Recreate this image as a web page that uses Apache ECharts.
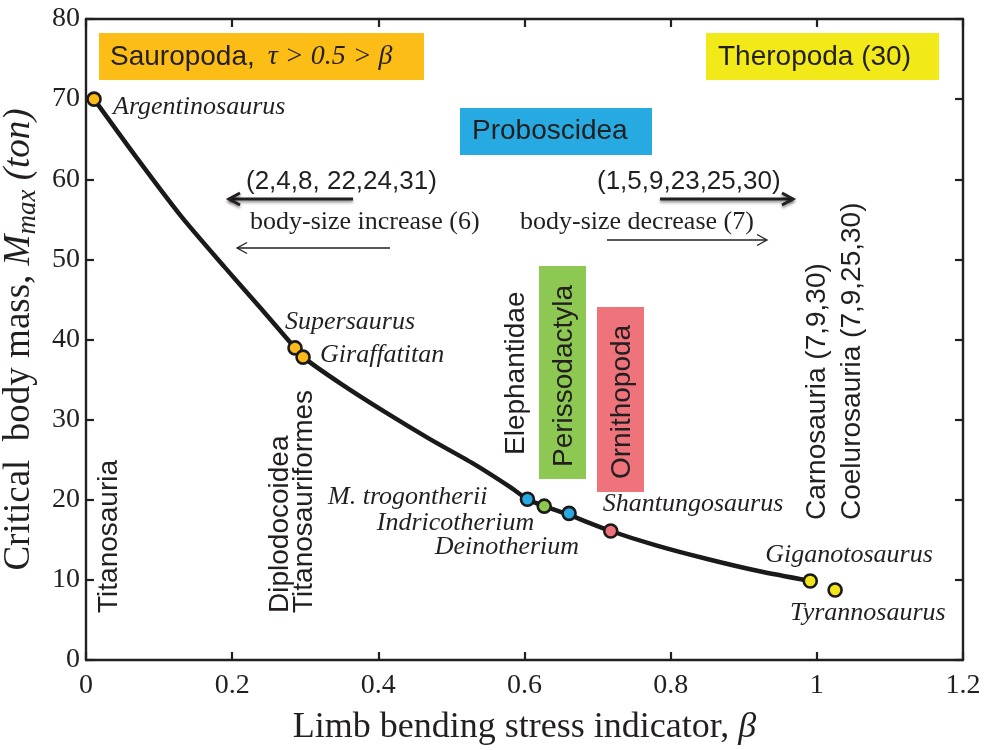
<!DOCTYPE html>
<html><head><meta charset="utf-8">
<script src="https://cdn.jsdelivr.net/npm/echarts@6/dist/echarts.min.js"></script>
<style>html,body{margin:0;padding:0;background:#fff}#c{width:990px;height:750px}</style>
</head><body><div id="c"></div>
<script>
// ---------- data ----------
const xTickValues = [0, 0.2, 0.4, 0.6, 0.8, 1, 1.2];
const yTickValues = [0, 10, 20, 30, 40, 50, 60, 70, 80];

// curve (beta, Mmax)
const curveBeta = [0.011, 0.07, 0.13, 0.19, 0.24, 0.286, 0.297, 0.35, 0.41, 0.47, 0.53, 0.58, 0.604, 0.627, 0.661, 0.718, 0.78, 0.85, 0.92, 0.991];
const curveMass = [70.0, 62.6, 55.4, 49.0, 43.8, 38.95, 37.8, 34.4, 30.9, 27.6, 24.5, 21.6, 20.06, 19.2, 18.1, 16.1, 14.3, 12.6, 11.1, 9.86];

// species points
const speciesNames = ['Argentinosaurus', 'Supersaurus', 'Giraffatitan', 'M. trogontherii', 'Indricotherium', 'Deinotherium', 'Shantungosaurus', 'Giganotosaurus', 'Tyrannosaurus'];
const speciesBeta  = [0.011, 0.286, 0.297, 0.604, 0.627, 0.661, 0.718, 0.991, 1.025];
const speciesMass  = [70.0, 38.95, 37.8, 20.06, 19.2, 18.3, 16.1, 9.86, 8.74];
const speciesClade = ['Sauropoda', 'Sauropoda', 'Sauropoda', 'Proboscidea', 'Perissodactyla', 'Proboscidea', 'Ornithopoda', 'Theropoda', 'Theropoda'];

// ---------- styling ----------
const cladeColor = {
  Sauropoda: '#FBBA18', Proboscidea: '#27AAE1', Perissodactyla: '#8DC84E',
  Ornithopoda: '#EE707A', Theropoda: '#F3E51B'
};
const INK = '#231f20';
const SERIF = '"Liberation Serif", "Times New Roman", serif';
const SANS = '"Liberation Sans", Arial, sans-serif';

// label placement relative to each point (pixels)
const labelLayout = {
  'Argentinosaurus': { align: 'left',  dx: 19,  dy: 8 },
  'Supersaurus':     { align: 'left',  dx: -10, dy: -26 },
  'Giraffatitan':    { align: 'left',  dx: 17,  dy: -2 },
  'M. trogontherii': { align: 'right', dx: -40, dy: -2 },
  'Indricotherium':  { align: 'right', dx: -10, dy: 17 },
  'Deinotherium':    { align: 'right', dx: 10,  dy: 34 },
  'Shantungosaurus': { align: 'left',  dx: -8,  dy: -27 },
  'Giganotosaurus':  { align: 'left',  dx: -45, dy: -26 },
  'Tyrannosaurus':   { align: 'left',  dx: -45, dy: 23 }
};

const curveData = curveBeta.map((b, i) => [b, curveMass[i]]);
const pointData = speciesNames.map((n, i) => {
  const L = labelLayout[n];
  return {
    name: n,
    value: [speciesBeta[i], speciesMass[i]],
    itemStyle: { color: cladeColor[speciesClade[i]] },
    label: { show: true, position: 'inside', align: L.align, verticalAlign: 'middle', offset: [L.dx, L.dy] }
  };
});

function txt(text, x, y, opts) {
  return Object.assign({
    type: 'text', x: x, y: y, z: 50,
    style: Object.assign({ text: text, fill: INK, fontFamily: SANS, fontSize: 28, align: 'left', verticalAlign: 'middle' }, opts && opts.style || {})
  }, opts && opts.el || {});
}
function vtxt(text, x, y, size) {
  return { type: 'text', x: x, y: y, rotation: Math.PI / 2, z: 50,
    style: { text: text, fill: INK, fontFamily: SANS, fontSize: size || 28, align: 'left', verticalAlign: 'middle' } };
}
function box(x, y, w, h, color) {
  return { type: 'rect', shape: { x: x, y: y, width: w, height: h }, style: { fill: color }, z: 40 };
}
function arrow(x1, x2, y, w, head, shadow) {
  const dir = x2 > x1 ? -1 : 1;
  const st = { stroke: '#231f20', lineWidth: w, fill: null };
  if (shadow) { st.shadowBlur = 3; st.shadowOffsetY = 2; st.shadowColor = 'rgba(0,0,0,0.45)'; }
  return [
    { type: 'polyline', z: 45, shape: { points: [[x1, y], [x2, y]] }, style: Object.assign({}, st) },
    { type: 'polyline', z: 45, shape: { points: [[x2 + dir * head, y - head * 0.55], [x2, y], [x2 + dir * head, y + head * 0.55]] }, style: Object.assign({}, st) }
  ];
}

const graphics = [
  box(99, 33, 325, 47, '#FBBD16'),
  box(706, 33, 233, 47, '#F2EA18'),
  box(460, 108, 192, 47, '#27AAE1'),
  box(539, 266, 47, 213, '#8DC852'),
  box(597, 307, 47, 185, '#EE737A'),
  {
    type: 'text', x: 110, y: 57, z: 50,
    style: {
      text: '{a|Sauropoda,}{b|τ > 0.5 > β}', align: 'left', verticalAlign: 'middle',
      rich: {
        a: { fontFamily: SANS, fontSize: 28, fill: INK },
        b: { fontFamily: SERIF, fontStyle: 'italic', fontSize: 28, fill: INK, padding: [0, 0, 0, 13] }
      }
    }
  },
  txt('Theropoda (30)', 718, 57),
  txt('Proboscidea', 472, 131),
  txt('(2,4,8, 22,24,31)', 246, 182, { style: { fontSize: 26 } }),
  txt('(1,5,9,23,25,30)', 597, 182, { style: { fontSize: 26 } }),
  txt('body-size increase (6)', 250, 222, { style: { fontFamily: SERIF, fontSize: 26 } }),
  txt('body-size decrease (7)', 520, 222, { style: { fontFamily: SERIF, fontSize: 26 } }),
  ...arrow(353, 229, 199, 3, 11, true),
  ...arrow(390, 237, 248, 1.3, 10, false),
  ...arrow(660, 793, 199, 3, 11, true),
  ...arrow(607, 767, 240, 1.3, 10, false),
  vtxt('Titanosauria', 109, 613),
  vtxt('Diplodocoidea', 280, 613),
  vtxt('Titanosauriformes', 304, 613),
  vtxt('Elephantidae', 516, 455),
  vtxt('Perissodactyla', 564, 467),
  vtxt('Ornithopoda', 622, 479),
  vtxt('Carnosauria (7,9,30)', 817, 520),
  vtxt('Coelurosauria (7,9,25,30)', 852, 520)
];

function axisCommon() {
  return {
    axisLine: { show: true, onZero: false, lineStyle: { color: INK, width: 2.4 } },
    axisTick: { show: true, inside: true, length: 8, lineStyle: { color: INK, width: 2.2 } },
    splitLine: { show: false }
  };
}

const chart = echarts.init(document.getElementById('c'), null, { renderer: 'canvas' });
chart.setOption({
  animation: false,
  backgroundColor: '#fff',
  grid: { left: 86, right: 27, top: 19, bottom: 90, containLabel: false, outerBoundsMode: 'none' },
  xAxis: [
    Object.assign({
      type: 'value', min: xTickValues[0], max: xTickValues[xTickValues.length - 1], interval: 0.2,
      position: 'bottom',
      axisLabel: { color: INK, fontFamily: SERIF, fontSize: 28, margin: 12 },
      name: '{n|Limb bending stress indicator, }{i|β}', nameLocation: 'middle', nameGap: 50,
      nameTextStyle: { rich: { n: { fontFamily: SERIF, fontSize: 36, color: INK }, i: { fontFamily: SERIF, fontStyle: 'italic', fontSize: 36, color: INK } } }
    }, axisCommon()),
    Object.assign({
      type: 'value', min: 0, max: 1.2, interval: 0.2, position: 'top', axisLabel: { show: false }
    }, axisCommon())
  ],
  yAxis: [
    Object.assign({
      type: 'value', min: yTickValues[0], max: yTickValues[yTickValues.length - 1], interval: 10,
      position: 'left',
      axisLabel: { color: INK, fontFamily: SERIF, fontSize: 28, margin: 6 },
      name: '{n|Critical  body mass, }{i|M}{s|max}{i| (ton)}', nameLocation: 'middle', nameGap: 28,
      nameTextStyle: { rich: {
        n: { fontFamily: SERIF, fontSize: 37, color: INK },
        i: { fontFamily: SERIF, fontStyle: 'italic', fontSize: 37, color: INK },
        s: { fontFamily: SERIF, fontStyle: 'italic', fontSize: 27, color: INK, padding: [16, 0, 0, 0] }
      } }
    }, axisCommon()),
    Object.assign({
      type: 'value', min: 0, max: 80, interval: 10, position: 'right', axisLabel: { show: false }
    }, axisCommon())
  ],
  series: [
    {
      type: 'line', data: curveData, smooth: 0.25, showSymbol: false, z: 2,
      lineStyle: { color: '#1a1a1a', width: 4.5 }
    },
    {
      type: 'scatter', data: pointData, symbol: 'circle', symbolSize: 13, z: 5,
      itemStyle: { borderColor: '#1a1a1a', borderWidth: 2.6, opacity: 1 },
      label: { color: INK, fontFamily: SERIF, fontStyle: 'italic', fontSize: 26, formatter: '{b}' },
      emphasis: { disabled: true }
    }
  ],
  graphic: graphics
});
</script>
</body></html>
